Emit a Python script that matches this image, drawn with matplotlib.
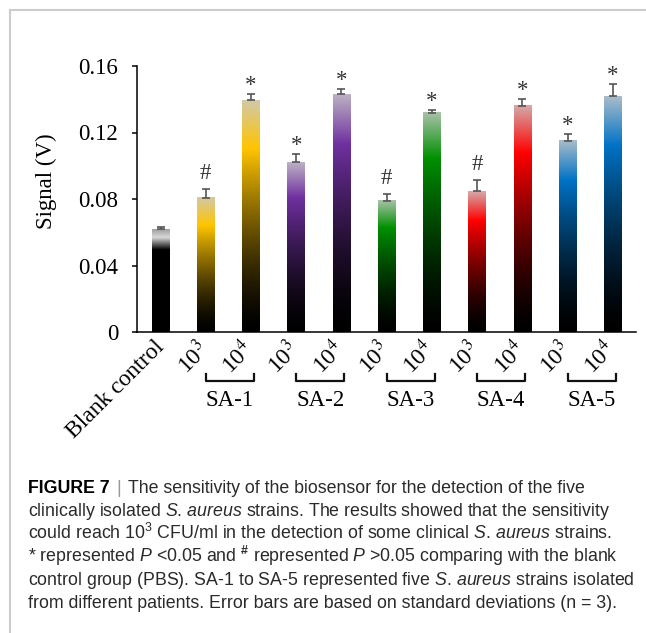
import numpy as np
import matplotlib
matplotlib.use("Agg")
import matplotlib.pyplot as plt
from matplotlib.colors import to_rgb
from matplotlib.lines import Line2D
from matplotlib.transforms import ScaledTranslation, blended_transform_factory

# ---------------- data ----------------
categories = ["Blank control", "10$^{3}$", "10$^{4}$", "10$^{3}$", "10$^{4}$",
              "10$^{3}$", "10$^{4}$", "10$^{3}$", "10$^{4}$", "10$^{3}$", "10$^{4}$"]
signal = [0.0618, 0.0809, 0.1395, 0.1020, 0.1430, 0.0789, 0.1320,
          0.0848, 0.1360, 0.1149, 0.1418]
sd = [0.0012, 0.0054, 0.0035, 0.0050, 0.0032, 0.0040, 0.0014,
      0.0066, 0.0040, 0.0042, 0.0074]
marks = ["", "#", "*", "*", "*", "#", "*", "#", "*", "*", "*"]
groups = ["SA-1", "SA-2", "SA-3", "SA-4", "SA-5"]
group_members = [(1, 2), (3, 4), (5, 6), (7, 8), (9, 10)]
bar_colors = ["#000000", "#FFC400", "#FFC400", "#7030A0", "#7030A0",
              "#009000", "#009000", "#FF0000", "#FF0000", "#0072C6", "#0072C6"]
yticks = [0, 0.04, 0.08, 0.12, 0.16]
ytick_labels = ["0", "0.04", "0.08", "0.12", "0.16"]
ylabel = "Signal (V)"

caption_head = "FIGURE 7"
caption_first = "The sensitivity of the biosensor for the detection of the five"
caption_lines = [
    r"clinically isolated $\mathit{S}$. $\mathit{aureus}$ strains. The results showed that the sensitivity",
    r"could reach 10$^{3}$ CFU/ml in the detection of some clinical $\mathit{S}$. $\mathit{aureus}$ strains.",
    r"* represented $\mathit{P}$ <0.05 and $^{\mathbf{\#}}$ represented $\mathit{P}$ >0.05 comparing with the blank",
    r"control group (PBS). SA-1 to SA-5 represented five $\mathit{S}$. $\mathit{aureus}$ strains isolated",
    r"from different patients. Error bars are based on standard deviations (n = 3).",
]

# ---------------- style ----------------
plt.rcParams["font.family"] = ["Liberation Serif", "DejaVu Serif"]
plt.rcParams["mathtext.fontset"] = "custom"
plt.rcParams["mathtext.rm"] = "Liberation Sans"
plt.rcParams["mathtext.it"] = "Liberation Sans:italic"
plt.rcParams["mathtext.bf"] = "Liberation Sans:bold"

W, H = 646, 633
fig = plt.figure(figsize=(W / 100, H / 100), dpi=100)
fig.patch.set_facecolor("white")

ax = fig.add_axes([137 / W, 1 - 332 / H, (636 - 137) / W, (332 - 66) / H])

x = np.arange(len(signal))
bars = ax.bar(x, signal, width=0.39, color="none", edgecolor="none", zorder=2)


def gradient(color, n=400):
    c = np.array(to_rgb(color))
    t = np.linspace(0, 1, n)
    img = np.zeros((n, 1, 3))
    if np.allclose(c, 0):
        pos = [0.0, 0.80, 0.92, 1.0]
        vals = [0.0, 0.0, 0.85, 0.62]
        g = np.interp(t, pos, vals)
        for k in range(3):
            img[:, 0, k] = g
        return img
    peak = 0.79
    top = 0.85 * np.array([0.79, 0.79, 0.79]) + 0.15 * c
    for k in range(3):
        low = c[k] * (np.clip(t / peak, 0, 1) ** 1.5)
        hi = c[k] + (top[k] - c[k]) * np.clip((t - peak) / (1 - peak), 0, 1)
        img[:, 0, k] = np.where(t <= peak, low, hi)
    return img


for patch, col in zip(bars.patches, bar_colors):
    x0, w, h = patch.get_x(), patch.get_width(), patch.get_height()
    ax.imshow(gradient(col), extent=[x0, x0 + w, 0, h], origin="lower",
              aspect="auto", interpolation="bilinear", zorder=2)

ax.errorbar(x, signal, yerr=[np.zeros(len(sd)), sd], fmt="none",
            ecolor="#555555", elinewidth=1.2, capsize=2.6, capthick=1.2, zorder=3)

for xi, yi, e, m in zip(x, signal, sd, marks):
    if not m:
        continue
    off = 7.0 if m == "#" else 2.0
    ax.annotate(m, (xi, yi + e), xytext=(0, off), textcoords="offset points",
                ha="center", va="baseline", fontsize=16.5, color="#333333")

ax.set_xlim(-0.52, 10.51)
ax.set_ylim(0, 0.16)
ax.set_yticks(yticks)
ax.set_yticklabels(ytick_labels)
ax.set_xticks(x)
ax.set_xticklabels(categories, rotation=45, ha="right", va="top")

for s in ("top", "right"):
    ax.spines[s].set_visible(False)
for s in ("left", "bottom"):
    ax.spines[s].set_linewidth(1.1)
    ax.spines[s].set_color("black")

ax.tick_params(axis="y", direction="out", length=3.6, width=1.1, pad=10,
               labelsize=16.5, colors="black")
ax.tick_params(axis="x", length=0, pad=3.5, labelsize=17, colors="black")

shift = ScaledTranslation(8 / 100, 0, fig.dpi_scale_trans)
for lab in ax.get_xticklabels():
    lab.set_transform(lab.get_transform() + shift)
    lab.set_math_fontfamily("stix")

ax.set_ylabel(ylabel, fontsize=16.5)
ax.yaxis.set_label_coords(-0.160, 0.566)

# group brackets
trans = blended_transform_factory(ax.transData, fig.transFigure)
for g, (a, b) in zip(groups, group_members):
    xa, xb = a - 0.0, b + 0.06
    yt, yb = 1 - 374 / H, 1 - 381 / H
    ax.add_artist(Line2D([xa, xa, xb, xb], [yt, yb, yb, yt], transform=trans,
                         color="#111111", lw=1.6, clip_on=False))
    ax.text((xa + xb) / 2, 1 - 401 / H, g, transform=trans, ha="center",
            va="center", fontsize=16.5, color="black")

# frame lines
fig.add_artist(Line2D([10 / W, 10 / W], [0, 1 - 10 / H], transform=fig.transFigure,
                      color="#CCCCCC", lw=1.5))
fig.add_artist(Line2D([10 / W, 1], [1 - 10 / H, 1 - 10 / H], transform=fig.transFigure,
                      color="#CCCCCC", lw=1.5))

# caption
cap_fs = 12.75
cap_col = "#2a2a2a"
baselines = [493, 516, 539, 562, 585, 608]
renderer = fig.canvas.get_renderer()
t1 = fig.text(28 / W, 1 - baselines[0] / H, caption_head, family="Liberation Sans",
              weight="bold", fontsize=cap_fs, color="black", va="baseline", ha="left")
bb = t1.get_window_extent(renderer)
t2 = fig.text((bb.x1 + 7) / W, 1 - baselines[0] / H, "|", family="Liberation Sans",
              fontsize=cap_fs, color="#999999", va="baseline", ha="left")
bb2 = t2.get_window_extent(renderer)
fig.text((bb2.x1 + 7) / W, 1 - baselines[0] / H, caption_first, family="Liberation Sans",
         fontsize=cap_fs, color=cap_col, va="baseline", ha="left")
for line, yb in zip(caption_lines, baselines[1:]):
    fig.text(28 / W, 1 - yb / H, line, family="Liberation Sans", fontsize=cap_fs,
             color=cap_col, va="baseline", ha="left", math_fontfamily="custom")

fig.savefig("out.png", dpi=100, facecolor="white")
